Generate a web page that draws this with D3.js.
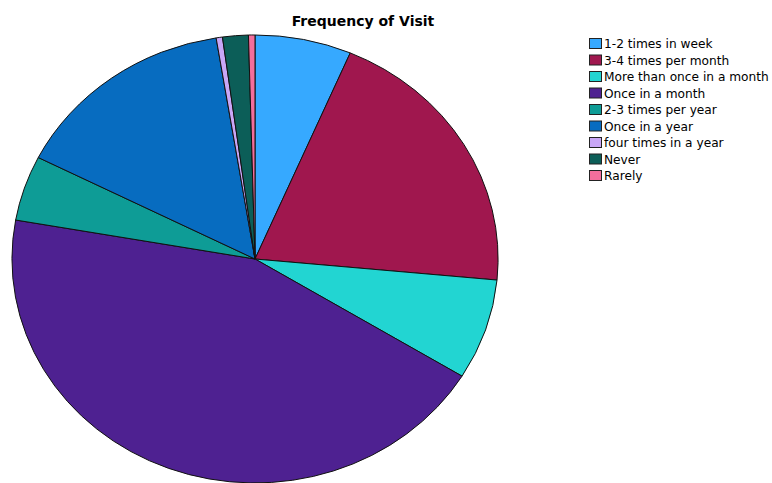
<!DOCTYPE html>
<html>
<head>
<meta charset="utf-8">
<script src="https://cdn.jsdelivr.net/npm/d3@7"></script>
<style>
  html, body { margin: 0; padding: 0; background: #fff; }
  svg { display: block; }
</style>
</head>
<body>
<svg id="chart" width="772" height="483"></svg>
<script>
const title = "Frequency of Visit";
const categories = ["1-2 times in week", "3-4 times per month", "More than once in a month", "Once in a month", "2-3 times per year", "Once in a year", "four times in a year", "Never", "Rarely"];
const values = [15, 47, 17, 103, 11, 35, 1, 4, 1];
const colors = ["#36A9FF", "#A0174E", "#22D5D2", "#4E2191", "#0E9C96", "#076CC0", "#C9A7F7", "#0C5E58", "#F46E9C"];

const svg = d3.select("#chart");
const data = categories.map((c, i) => ({ name: c, value: values[i], color: colors[i] }));

const pie = d3.pie().value(d => d.value).sort(null).startAngle(0).endAngle(2 * Math.PI);
const arc = d3.arc().innerRadius(0).outerRadius(1);

const cx = 255, cy = 259, rx = 243, ry = 224;
const g = svg.append("g").attr("transform", `translate(${cx},${cy}) scale(${rx},${ry})`);

g.selectAll("path.slice")
  .data(pie(data))
  .join("path")
  .attr("class", "slice")
  .attr("d", arc)
  .attr("fill", d => d.data.color)
  .attr("stroke", "#111")
  .attr("stroke-width", 1)
  .attr("vector-effect", "non-scaling-stroke");

svg.append("text")
  .attr("x", 363)
  .attr("y", 26)
  .attr("text-anchor", "middle")
  .attr("font-family", "DejaVu Sans, Verdana, sans-serif")
  .attr("font-weight", "bold")
  .attr("font-size", 14)
  .attr("fill", "#000")
  .text(title);

const legend = svg.append("g").attr("transform", "translate(589,38)");
const rowH = 16.5;
const rows = legend.selectAll("g.row").data(data).join("g")
  .attr("class", "row")
  .attr("transform", (d, i) => `translate(0,${i * rowH})`);
rows.append("rect")
  .attr("x", 0.5).attr("y", 0.5)
  .attr("width", 12).attr("height", 10)
  .attr("fill", d => d.color)
  .attr("stroke", "#222")
  .attr("stroke-width", 1);
rows.append("text")
  .attr("x", 15)
  .attr("y", 10)
  .attr("font-family", "DejaVu Sans, Verdana, sans-serif")
  .attr("font-size", 12.2)
  .attr("fill", "#000")
  .text(d => d.name);
</script>
</body>
</html>
